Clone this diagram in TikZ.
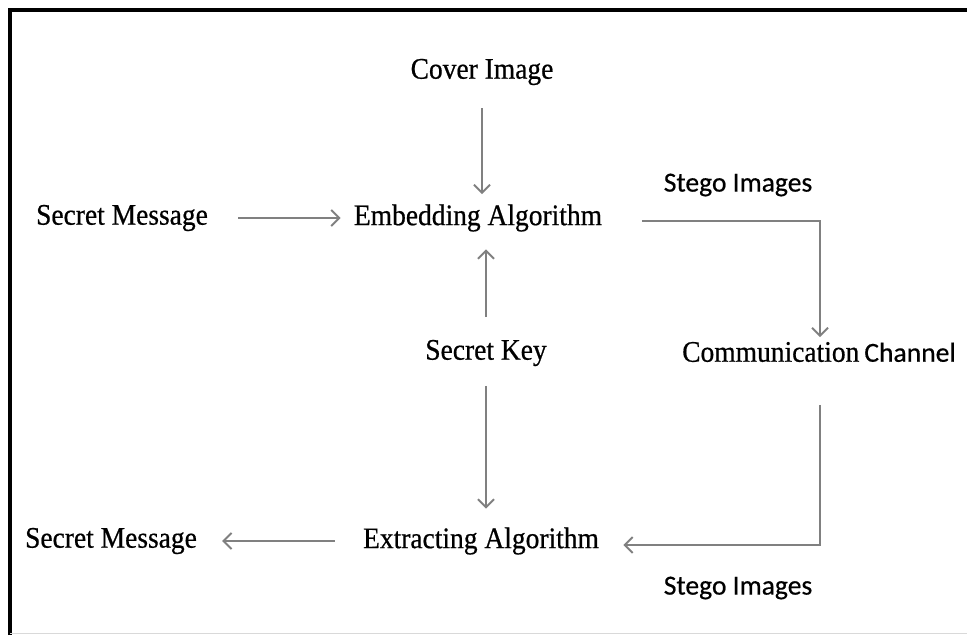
\documentclass[tikz,border=0pt]{standalone}
\usepackage{fontspec}
\setmainfont{Liberation Serif}[FakeBold=0.6, FakeStretch=0.92]
\newfontfamily\stegofont{Carlito}[FakeBold=0.5]
\usetikzlibrary{arrows.meta,positioning}
\definecolor{my_gray}{RGB}{128,128,128}
\tikzset{
  label_n/.style = {inner sep=0pt, font=\fontsize{17}{20}\selectfont},
  stego_n/.style = {inner sep=0pt, font=\stegofont\fontsize{15.7}{18}\selectfont},
  flow/.style = {draw=my_gray, line width=1.1pt, -{Straight Barb[length=1.6mm,width=3.2mm]}}
}

\begin{document}
\begin{tikzpicture}
  \useasboundingbox (0,0) rectangle (19.34,-12.7);
  % frame, cut off on the right
  \draw[line width=2.3pt] (0.2,-12.7) -- (0.2,-0.2) -- (19.34,-0.2);
  \draw[black!15, line width=0.4pt] (0.2,-12.67) -- (19.34,-12.67);

  % embedding side
  \node [label_n] (cover) at (9.64,-1.44) {Cover Image};
  \node [label_n] (msgin) at (2.44,-4.36) {Secret Message};
  \node [label_n] (embed) at (9.56,-4.36) {Embedding Algorithm};
  \node [stego_n] (stegoA) at (14.76,-3.70) {Stego Images};

  % channel and key
  \node [label_n] (channel) at (16.38,-7.04) {Communication\,{\stegofont\fontsize{15.7}{18}\selectfont Channel}};
  \node [label_n] (key) at (9.72,-7.06) {Secret Key};

  % extracting side
  \node [label_n] (extract) at (9.62,-10.82) {Extracting Algorithm};
  \node [label_n] (msgout) at (2.22,-10.82) {Secret Message};
  \node [stego_n] (stegoB) at (14.76,-11.76) {Stego Images};

  \draw[flow, shorten <=0.46cm, shorten >=0.2cm] (cover) -- (cover |- embed.north);
  \draw[flow, shorten <=0.6cm, shorten >=0.26cm] (msgin.east) -- (msgin.east -| embed.west);
  \draw[flow] ([xshift=0.79cm,yshift=-0.06cm]embed.east) -| ([xshift=0.02cm,yshift=0.09cm]channel.north);
  \draw[flow, shorten <=0.45cm, shorten >=0.35cm] (key.north) -- (key.north |- embed.south);
  \draw[flow, shorten <=0.39cm, shorten >=0.37cm] (key.south) -- (key.south |- extract.north);
  \draw[flow, shorten <=0.56cm, shorten >=0.5cm] (extract.west) -- (extract.west -| msgout.east);
  \draw[flow] ([xshift=0.02cm,yshift=-0.85cm]channel.south) |- ([xshift=0.48cm,yshift=-0.08cm]extract.east);
\end{tikzpicture}
\end{document}
